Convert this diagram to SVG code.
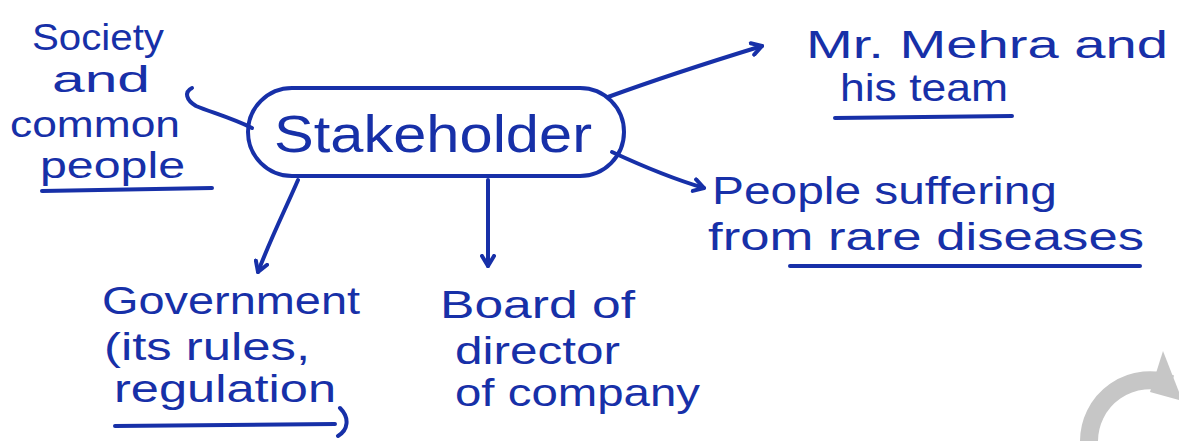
<svg xmlns="http://www.w3.org/2000/svg" width="1179" height="441" viewBox="0 0 1179 441">
  <style>
    .ink { fill: none; stroke: #1730a8; stroke-width: 4; stroke-linecap: round; stroke-linejoin: round; }
    .lbl { fill: #1730a8; font-family: "Liberation Sans", "DejaVu Sans", sans-serif; font-size: 38px; }
    .small { font-size: 36px; }
    .center { font-size: 52px; }
  </style>
  <defs>
    <marker id="arr" markerWidth="16" markerHeight="16" refX="12" refY="8" orient="auto" markerUnits="userSpaceOnUse">
      <path d="M2,2 L12,8 L2,14" fill="none" stroke="#1730a8" stroke-width="4" stroke-linecap="round" stroke-linejoin="round"/>
    </marker>
  </defs>
  <rect width="1179" height="441" fill="#ffffff"/>

  <g id="connectors">
    <path class="ink" d="M252,128 C232,118 210,112 196,106 C186,100 184,92 192,88"/>
    <path class="ink" d="M608,97 C660,78 710,62 762,46" marker-end="url(#arr)"/>
    <path class="ink" d="M612,152 C640,165 670,178 704,188" marker-end="url(#arr)"/>
    <path class="ink" d="M298,180 C285,210 270,240 258,272" marker-end="url(#arr)"/>
    <path class="ink" d="M488,180 L488,266" marker-end="url(#arr)"/>
  </g>

  <g id="node-stakeholder">
    <rect class="ink" x="248" y="88" width="376" height="88" rx="44" ry="44"/>
    <text class="lbl center" x="274" y="152" textLength="318" lengthAdjust="spacingAndGlyphs">Stakeholder</text>
  </g>

  <g id="node-society">
    <text class="lbl small" x="32" y="50" textLength="132" lengthAdjust="spacingAndGlyphs">Society</text>
    <text class="lbl small" x="52" y="92" textLength="98" lengthAdjust="spacingAndGlyphs">and</text>
    <text class="lbl small" x="10" y="137" textLength="170" lengthAdjust="spacingAndGlyphs">common</text>
    <text class="lbl small" x="40" y="178" textLength="145" lengthAdjust="spacingAndGlyphs">people</text>
    <path class="ink" d="M42,191 L212,188"/>
  </g>

  <g id="node-mehra">
    <text class="lbl" x="806" y="58" textLength="362" lengthAdjust="spacingAndGlyphs">Mr. Mehra and</text>
    <text class="lbl" x="840" y="101" textLength="168" lengthAdjust="spacingAndGlyphs">his team</text>
    <path class="ink" d="M835,118 L1012,116"/>
  </g>

  <g id="node-patients">
    <text class="lbl" x="712" y="204" textLength="345" lengthAdjust="spacingAndGlyphs">People suffering</text>
    <text class="lbl" x="708" y="250" textLength="436" lengthAdjust="spacingAndGlyphs">from rare diseases</text>
    <path class="ink" d="M790,266 L1140,266"/>
  </g>

  <g id="node-government">
    <text class="lbl" x="102" y="314" textLength="258" lengthAdjust="spacingAndGlyphs">Government</text>
    <text class="lbl" x="104" y="360" textLength="206" lengthAdjust="spacingAndGlyphs">(its rules,</text>
    <text class="lbl" x="114" y="402" textLength="222" lengthAdjust="spacingAndGlyphs">regulation</text>
    <path class="ink" d="M115,426 L335,424 M340,408 C350,418 348,430 338,436"/>
  </g>

  <g id="node-board">
    <text class="lbl" x="440" y="318" textLength="195" lengthAdjust="spacingAndGlyphs">Board of</text>
    <text class="lbl" x="455" y="364" textLength="165" lengthAdjust="spacingAndGlyphs">director</text>
    <text class="lbl" x="455" y="406" textLength="245" lengthAdjust="spacingAndGlyphs">of company</text>
  </g>

  <!-- pale grey curved arrow in the lower right corner -->
  <g id="corner-mark">
    <path d="M1089,441 A61,61 0 0 1 1171,384" fill="none" stroke="#c6c6c6" stroke-width="18"/>
    <path d="M1163,351 L1179,392 L1179,400 L1150,392 Z" fill="#c6c6c6"/>
  </g>
</svg>
